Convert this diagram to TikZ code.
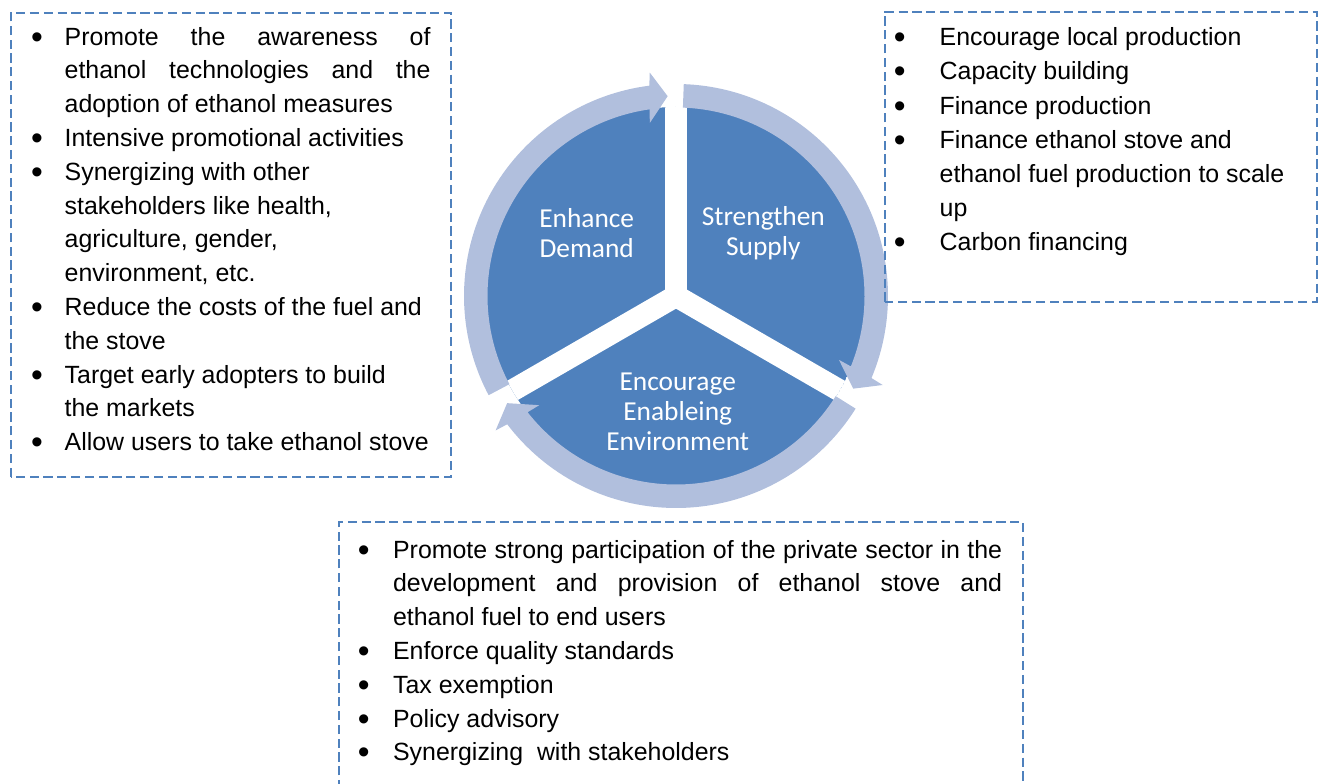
\documentclass[tikz,border=0pt]{standalone}
\usepackage{fontspec}
\usepackage{graphicx}
\setmainfont{Liberation Sans}
\newfontfamily\piefont{Carlito}
\definecolor{pieblue}{RGB}{79,129,189}
\definecolor{ringblue}{RGB}{177,191,221}
\definecolor{dashblue}{RGB}{79,129,189}
\newcommand\bul[1]{\makebox[0pt][c]{\raisebox{-1.5pt}{\scalebox{1.35}{\textbullet}}}\hspace*{#1}}
\begin{document}
\begin{tikzpicture}[x=0.5pt,y=0.5pt,
  dashbox/.style={draw=dashblue, line width=1.1pt, dash pattern=on 4.6pt off 2.3pt},
  listtext/.style={anchor=base west, inner sep=0pt, align=left},
  pietext/.style={text=white, align=center, inner sep=0pt, font=\piefont\fontsize{13.7pt}{15pt}\selectfont},
  ringarrow/.style={fill=ringblue}]
\useasboundingbox (0,0) rectangle (1322,783);
\clip (0,0) rectangle (1322,783);
\begin{scope}[shift={(676,487)}]
  \begin{scope}
    \clip (0,0) circle[radius=189];
    \fill[pieblue] (0,0) circle[radius=189];
    \foreach \a in {90,210,330} \draw[white,line width=11pt] (0,0) -- (\a:200);
  \end{scope}
  \foreach \k in {0,1,2}{
    \pgfmathsetmacro\angS{207.9-120*\k}
    \pgfmathsetmacro\angT{92.4-120*\k}
    \fill[ringarrow] (\angS:212) arc[start angle=\angS, end angle=\angT+4.83, radius=212]
      -- (\angT+4.3:225) -- (\angT:200) -- (\angT+6.2:175) -- (\angT+5.67:188.5)
      arc[start angle=\angT+5.67, end angle=\angS, radius=188.5] -- cycle;
  }
\end{scope}
\node[pietext] (demand) at (586.7,549.7) {Enhance\\Demand};
\node[pietext] (supply) at (763.3,550) {Strengthen\\Supply};
\node[pietext] (environ) at (677.7,371.3) {Encourage\\Enableing\\Environment};
% boxes
\draw[dashbox] (11,306.3) rectangle (451,770.3);
\draw[dashbox] (885,481.3) rectangle (1316.7,771.3);
\draw[dashbox] (339,-20) rectangle (1023,261);
% list texts (base anchor = baseline of the last line)
\node[listtext, font=\fontsize{12.45pt}{16.9pt}\selectfont] (lefttext) at (36.7,332.4) {%
\bul{13.8pt}\makebox[182.9pt][s]{Promote the awareness of}\\
\hspace*{13.8pt}\makebox[182.9pt][s]{ethanol technologies and the}\\
\hspace*{13.8pt}adoption of ethanol measures\\
\bul{13.8pt}Intensive promotional activities\\
\bul{13.8pt}Synergizing with other\\
\hspace*{13.8pt}stakeholders like health,\\
\hspace*{13.8pt}agriculture, gender,\\
\hspace*{13.8pt}environment, etc.\\
\bul{13.8pt}Reduce the costs of the fuel and\\
\hspace*{13.8pt}the stove\\
\bul{13.8pt}Target early adopters to build\\
\hspace*{13.8pt}the markets\\
\bul{13.8pt}Allow users to take ethanol stove};
\node[listtext, font=\fontsize{12.45pt}{17.1pt}\selectfont] (righttext) at (899.3,532.1) {%
\bul{20pt}Encourage local production\\
\bul{20pt}Capacity building\\
\bul{20pt}Finance production\\
\bul{20pt}Finance ethanol stove and\\
\hspace*{20pt}ethanol fuel production to scale\\
\hspace*{20pt}up\\
\bul{20pt}Carbon financing};
\node[listtext, font=\fontsize{12.45pt}{16.9pt}\selectfont] (bottomtext) at (363.3,22.2) {%
\bul{14.7pt}\makebox[304.5pt][s]{Promote strong participation of the private sector in the}\\
\hspace*{14.7pt}\makebox[304.5pt][s]{development and provision of ethanol stove and}\\
\hspace*{14.7pt}ethanol fuel to end users\\
\bul{14.7pt}Enforce quality standards\\
\bul{14.7pt}Tax exemption\\
\bul{14.7pt}Policy advisory\\
\bul{14.7pt}Synergizing\ \ with stakeholders};
\end{tikzpicture}
\end{document}
